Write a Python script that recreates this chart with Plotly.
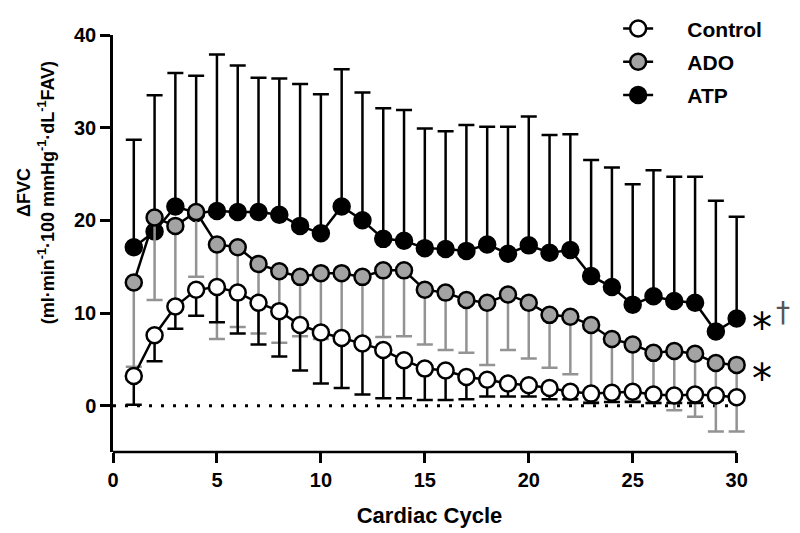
import plotly.graph_objects as go

cycles = list(range(1, 31))

atp_mean = [17.1, 18.8, 21.5, 20.8, 21.0, 20.9, 20.9, 20.6, 19.4, 18.6,
            21.5, 20.0, 18.0, 17.8, 17.0, 16.9, 16.7, 17.4, 16.4, 17.3,
            16.5, 16.8, 14.0, 12.8, 10.9, 11.8, 11.3, 11.1, 8.0, 9.4]
atp_err = [11.6, 14.7, 14.4, 14.8, 16.9, 15.8, 14.5, 14.7, 15.3, 15.0,
           14.8, 13.8, 14.1, 14.1, 12.9, 12.7, 13.6, 12.7, 13.7, 13.9,
           12.7, 12.5, 12.5, 12.9, 13.0, 13.6, 13.4, 13.6, 14.1, 11.0]

ado_mean = [13.3, 20.3, 19.4, 20.9, 17.4, 17.1, 15.3, 14.5, 13.9, 14.3,
            14.3, 13.9, 14.6, 14.6, 12.5, 12.2, 11.4, 11.1, 12.0, 11.1,
            9.8, 9.6, 8.7, 7.2, 6.6, 5.7, 5.9, 5.6, 4.6, 4.4]
ado_err = [9.1, 8.9, 8.9, 7.0, 10.2, 8.6, 7.5, 7.7, 6.4, 7.1,
           7.3, 6.7, 7.2, 7.1, 5.9, 6.2, 5.7, 6.7, 6.0, 6.0,
           5.7, 6.2, 8.3, 6.4, 6.1, 5.4, 6.4, 6.8, 7.4, 7.2]

ctrl_mean = [3.2, 7.6, 10.7, 12.5, 12.8, 12.2, 11.1, 10.2, 8.7, 7.9,
             7.3, 6.7, 6.0, 4.9, 4.0, 3.8, 3.1, 2.8, 2.4, 2.2,
             1.9, 1.5, 1.3, 1.4, 1.5, 1.2, 1.1, 1.2, 1.1, 0.9]
ctrl_err = [3.1, 2.8, 2.4, 2.8, 3.8, 4.4, 4.5, 4.9, 4.9, 5.5,
            5.4, 5.5, 5.2, 4.1, 3.4, 3.2, 2.4, 1.8, 1.4, 1.2,
            1.2, 0.8, 1.0, 1.0, 1.1, 0.9, 0.8, 0.9, 0.5, 0.2]

x_ticks = [0, 5, 10, 15, 20, 25, 30]
y_ticks = [0, 10, 20, 30, 40]

FONT = "Liberation Sans, Arial, sans-serif"
NB = "\u00a0" * 5
zeros = [0] * len(cycles)

fig = go.Figure()

fig.add_trace(go.Scatter(
    x=cycles, y=atp_mean, name=NB + "ATP", mode="lines+markers",
    line=dict(color="black", width=2.5),
    marker=dict(size=16, color="black", line=dict(color="black", width=2.5)),
    error_y=dict(type="data", symmetric=False, array=atp_err, arrayminus=zeros,
                 color="black", thickness=2.5, width=8),
    legendgroup="c", legendrank=3, cliponaxis=False,
))
fig.add_trace(go.Scatter(
    x=cycles, y=ado_mean, name=NB + "ADO", mode="lines+markers",
    line=dict(color="black", width=2.5),
    marker=dict(size=16, color="#a3a3a3", line=dict(color="black", width=2.5)),
    error_y=dict(type="data", symmetric=False, array=zeros, arrayminus=ado_err,
                 color="#939393", thickness=2.5, width=8),
    legendgroup="b", legendrank=2, cliponaxis=False,
))
fig.add_trace(go.Scatter(
    x=cycles, y=ctrl_mean, name=NB + "Control", mode="lines+markers",
    line=dict(color="black", width=2.5),
    marker=dict(size=16, color="white", line=dict(color="black", width=2.5)),
    error_y=dict(type="data", symmetric=False, array=zeros, arrayminus=ctrl_err,
                 color="black", thickness=2.5, width=8),
    legendgroup="a", legendrank=1, cliponaxis=False,
))

# dotted zero reference line
fig.add_shape(type="line", xref="x", yref="y", x0=x_ticks[0], x1=x_ticks[-1], y0=0, y1=0,
              line=dict(color="black", width=3, dash="3px,9px"), layer="below")
# x-axis baseline ending exactly at the last tick
fig.add_shape(type="line", xref="x", yref="paper", x0=x_ticks[0], x1=x_ticks[-1], y0=0, y1=0,
              line=dict(color="black", width=2.5), layer="above")

# significance markers (ATP box extends upward, ADO box downward so they do not collide)
fig.add_annotation(x=cycles[-1], y=atp_mean[-1], text="*", showarrow=False,
                   xanchor="center", yanchor="bottom", xshift=25, yshift=-34,
                   font=dict(family="DejaVu Sans", size=40, color="black", weight="normal"))
fig.add_annotation(x=cycles[-1], y=atp_mean[-1], text="†", showarrow=False,
                   xanchor="center", yanchor="middle", xshift=46, yshift=6,
                   font=dict(family="DejaVu Sans", size=28, color="#555555", weight="normal"))
fig.add_annotation(x=cycles[-1], y=ado_mean[-1], text="*", showarrow=False,
                   xanchor="center", yanchor="top", xshift=25, yshift=11,
                   font=dict(family="DejaVu Sans", size=40, color="black", weight="normal"))

# y-axis title (two lines)
fig.add_annotation(xref="paper", yref="y", x=-0.1222, y=23.0,
                   text="<b>ΔFVC</b><br><b>(ml·min<sup>-1</sup>·100 mmHg<sup>-1</sup>·dL<sup>-1</sup>FAV)</b>",
                   textangle=-90, showarrow=False, xanchor="center", yanchor="middle",
                   font=dict(family=FONT, size=18, color="black"))

fig.update_layout(
    width=800, height=533,
    margin=dict(l=105, r=62, t=27, b=89, autoexpand=False),
    plot_bgcolor="white", paper_bgcolor="white",
    font=dict(family=FONT, size=20, color="black", weight="bold"),
    showlegend=True,
    legend=dict(x=0.798, y=1.064, xanchor="left", yanchor="top",
                font=dict(family=FONT, size=21, color="black", weight="bold"),
                tracegroupgap=3, bgcolor="rgba(0,0,0,0)"),
    xaxis=dict(range=[0, 30.45], tickvals=x_ticks, ticktext=[str(v) for v in x_ticks],
               showgrid=False, zeroline=False, showline=False,
               ticks="outside", ticklen=10, tickwidth=2.5,
               tickcolor="black", tickfont=dict(size=20),
               title=dict(text="<b>Cardiac Cycle</b>", standoff=17,
                          font=dict(family=FONT, size=22))),
    yaxis=dict(range=[-5, 40], tickvals=y_ticks, ticktext=[str(v) for v in y_ticks],
               showgrid=False, zeroline=False, showline=True, linecolor="black",
               linewidth=2.5, ticks="outside", ticklen=10, tickwidth=2.5,
               tickcolor="black", tickfont=dict(size=20)),
)

fig.write_html("out.html")
